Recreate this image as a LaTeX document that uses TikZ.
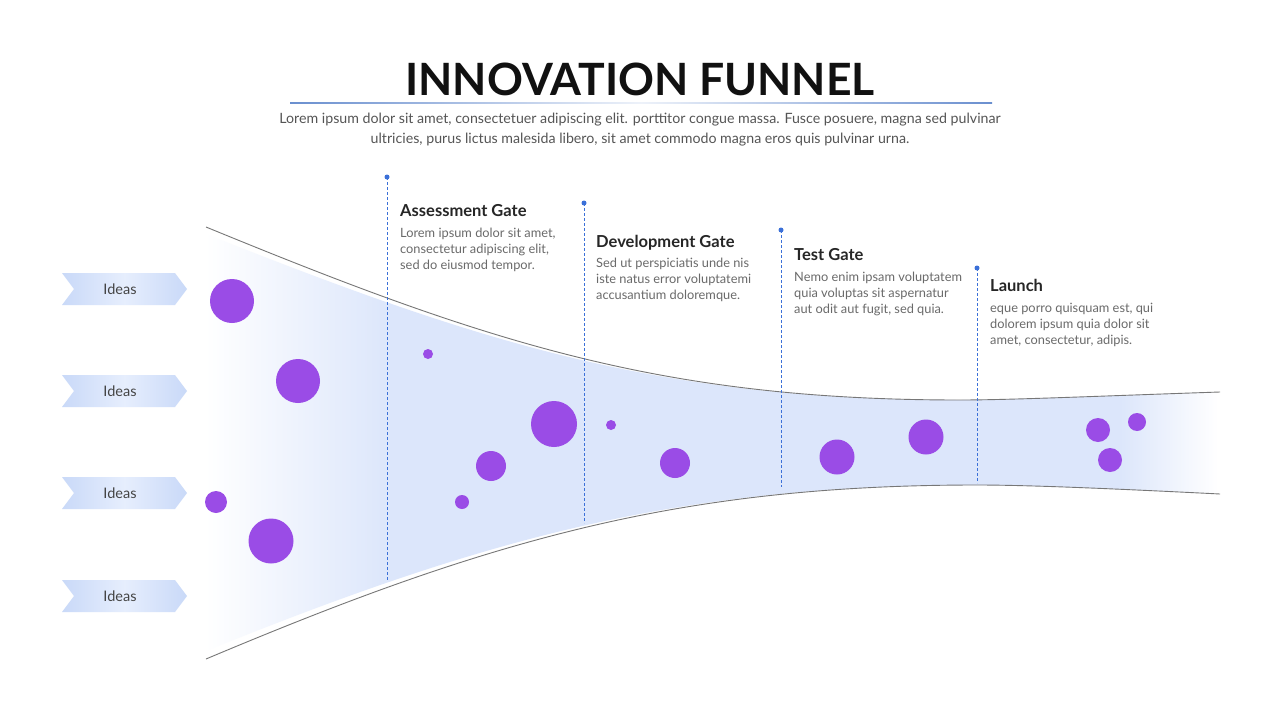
\documentclass[tikz,border=0pt]{standalone}
\usepackage{fontspec}
\setmainfont{Lato}
\begin{document}
\begin{tikzpicture}[x=1pt,y=-1pt,
  bubble/.style={fill=bubblec},
  gateline/.style={draw=gatec, line width=0.9pt, dash pattern=on 3pt off 2pt},
  gatedot/.style={circle, fill=gatec, inner sep=0pt, minimum size=5pt},
  funnelline/.style={draw=linec, line width=0.9pt},
  ideastag/.style={left color=tagdark, right color=tagdark, middle color=taglight, draw=none},
  ideastext/.style={font=\fontsize{14.5}{16}\selectfont, text=ideatext},
  headtext/.style={anchor=base west, inner sep=0pt, font=\fontsize{16.5}{19}\bfseries\selectfont, text=headc},
  bodytext/.style={anchor=north west, inner sep=0pt, align=left, font=\fontsize{12.8}{16}\selectfont, text=bodyc},
  subtext/.style={anchor=base, inner sep=0pt, font=\fontsize{14.2}{16}\selectfont, text=subc}
]
\definecolor{bubblec}{HTML}{9A4CE6}
\definecolor{gatec}{HTML}{3B70D8}
\definecolor{linec}{HTML}{777777}
\definecolor{funnelc}{HTML}{DCE6FB}
\definecolor{tagdark}{HTML}{C9D9F8}
\definecolor{taglight}{HTML}{E6EEFD}
\definecolor{ideatext}{HTML}{444444}
\definecolor{headc}{HTML}{262626}
\definecolor{bodyc}{HTML}{6A6A6A}
\definecolor{subc}{HTML}{555555}
\definecolor{titlec}{HTML}{111111}
\definecolor{rulec}{HTML}{6A8FCF}

\useasboundingbox (0,0) rectangle (1280,720);
\fill[white] (0,0) rectangle (1280,720);

% title
\node[anchor=base, inner sep=0pt, font=\fontsize{44.5}{50}\bfseries\selectfont, text=titlec] (title) at (640,95) {INNOVATION FUNNEL};
\shade[left color=rulec, right color=rulec, middle color=rulec!12] (290,102.4) rectangle (992,103.6);
\node[subtext] (sub1) at (640,123.5) {Lorem ipsum dolor sit amet, consectetuer adipiscing elit. porttitor congue massa. Fusce posuere, magna sed pulvinar};
\node[subtext] (sub2) at (640,143.5) {ultricies, purus lictus malesida libero, sit amet commodo magna eros quis pulvinar urna.};

% funnel fill
\begin{scope}
\clip (206,234) .. controls (486,345) and (660,400) .. (960,400)
  .. controls (1010,400) and (1100,396) .. (1220,392)
  -- (1220,494) .. controls (1120,489) and (1030,485) .. (977,485)
  .. controls (677,485) and (486,538) .. (206,651) -- cycle;
\shade[left color=white, right color=funnelc] (205,200) rectangle (390,700);
\fill[funnelc] (389,200) rectangle (1121,700);
\shade[left color=funnelc, right color=white] (1120,200) rectangle (1218,700);
\end{scope}

% funnel outlines
\draw[funnelline] (206,227) .. controls (486,342) and (660,400) .. (960,400)
  .. controls (1010,400) and (1100,396) .. (1220,392);
\draw[funnelline] (206,659) .. controls (486,541) and (677,485) .. (977,485)
  .. controls (1030,485) and (1120,489) .. (1220,494);

% ideas tags
\foreach \y/\n in {289/1,391/2,493/3,596/4}{
  \shade[ideastag] (62,\y-16) -- (175,\y-16) -- (187,\y) -- (175,\y+16) -- (62,\y+16) -- (74,\y) -- cycle;
  \node[ideastext] (idea\n) at (120,\y) {Ideas};
}

% gate lines
\node[gatedot] (d1) at (387,177) {};
\node[gatedot] (d2) at (584,203) {};
\node[gatedot] (d3) at (781,230) {};
\node[gatedot] (d4) at (977,268) {};
\coordinate (e1) at (387,580);
\coordinate (e2) at (584,523);
\coordinate (e3) at (781,487);
\coordinate (e4) at (977,483);
\foreach \i in {1,...,4}{ \draw[gateline] (d\i.center) -- (e\i); }

% bubbles
\foreach \x/\y/\r in {232/301/22, 298/381/22, 216/502/11, 271/541/22.5, 428/354/5, 491/466/15, 554/424/23, 462/502/7, 611/425/5, 675/463/15, 837/457/17.5, 926/437/17.5, 1098/430/12, 1137/422/9, 1110/460/12}{
  \fill[bubble] (\x,\y) circle[radius=\r];
}

% gate texts
\node[headtext] (h1) at (400,216) {Assessment Gate};
\node[bodytext] (b1) at (400,228) {Lorem ipsum dolor sit amet,\\consectetur adipiscing elit,\\sed do eiusmod tempor.};
\node[headtext] (h2) at (596,247) {Development Gate};
\node[bodytext] (b2) at (596,258) {Sed ut perspiciatis unde nis\\iste natus error voluptatemi\\accusantium doloremque.};
\node[headtext] (h3) at (794,260) {Test Gate};
\node[bodytext] (b3) at (794,272) {Nemo enim ipsam voluptatem\\quia voluptas sit aspernatur\\aut odit aut fugit, sed quia.};
\node[headtext] (h4) at (990,291) {Launch};
\node[bodytext] (b4) at (990,303) {eque porro quisquam est, qui\\dolorem ipsum quia dolor sit\\amet, consectetur, adipis.};
\end{tikzpicture}
\end{document}
